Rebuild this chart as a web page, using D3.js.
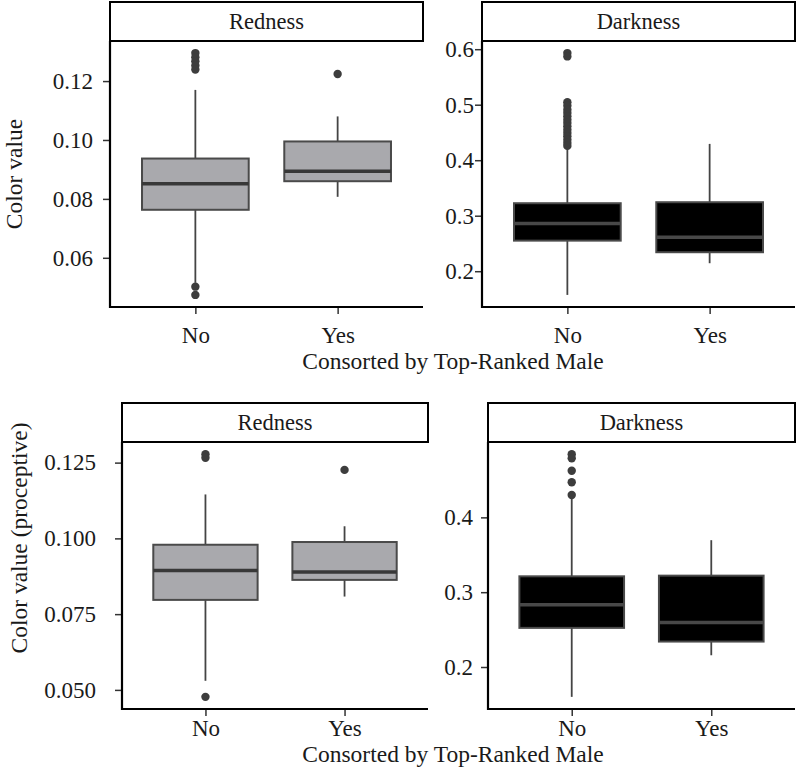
<!DOCTYPE html>
<html>
<head>
<meta charset="utf-8">
<script src="https://cdn.jsdelivr.net/npm/d3@7"></script>
<style>
  body { margin: 0; background: #fff; }
</style>
</head>
<body>
<div id="chart"></div>
<script>
// Categories
const groups = ["No", "Yes"];
const facets = ["Redness", "Darkness"];

// Box stats per group: [lowerWhisker, q1, median, q3, upperWhisker]
const redBox = [[0.0515, 0.0763, 0.0851, 0.0937, 0.1170], [0.0807, 0.0860, 0.0894, 0.0995, 0.1080]];
const redOut = [[0.1295, 0.1281, 0.1267, 0.1253, 0.1239, 0.0502, 0.0474], [0.1224]];

const darkBox = [[0.1573, 0.2551, 0.2858, 0.3225, 0.4216], [0.2144, 0.2342, 0.2613, 0.3243, 0.4294]];
const darkOut = [[0.593, 0.587, 0.5045, 0.498, 0.491, 0.485, 0.479, 0.473, 0.467, 0.461,
                  0.455, 0.449, 0.443, 0.437, 0.431, 0.4258], []];

const redProBox = [[0.0530, 0.0797, 0.0894, 0.0979, 0.1145], [0.0808, 0.0863, 0.0889, 0.0988, 0.1040]];
const redProOut = [[0.1278, 0.1266, 0.0477], [0.1226]];

const darkProBox = [[0.1601, 0.2523, 0.2832, 0.3212, 0.4264], [0.2157, 0.2340, 0.2595, 0.3221, 0.3695]];
const darkProOut = [[0.4845, 0.4790, 0.4622, 0.4470, 0.4299], []];

// Tick labels
const redTicks = [0.06, 0.08, 0.10, 0.12];
const darkTicks = [0.2, 0.3, 0.4, 0.5, 0.6];
const redProTicks = [0.050, 0.075, 0.100, 0.125];
const darkProTicks = [0.2, 0.3, 0.4];

const xTitle = "Consorted by Top-Ranked Male";

const FONT = "'Liberation Serif', 'Times New Roman', Times, serif";
const width = 796, height = 776;
const svg = d3.select("#chart").append("svg")
  .attr("width", width)
  .attr("height", height);

// Panel layout (positions only)
const panels = [
  { facet: facets[0], box: redBox, out: redOut, ticks: redTicks, fmt: ".2f", fill: "#a9a9ad", median: "#383838",
    x0: 110, x1: 423, strip: 2, y0: 41, y1: 307, labelGap: 17, xLabelY: 343 },
  { facet: facets[1], box: darkBox, out: darkOut, ticks: darkTicks, fmt: ".1f", fill: "#000", median: "#484848",
    x0: 482, x1: 795, strip: 2, y0: 41, y1: 307, labelGap: 8, xLabelY: 343 },
  { facet: facets[0], box: redProBox, out: redProOut, ticks: redProTicks, fmt: ".3f", fill: "#a9a9ad", median: "#383838",
    x0: 122, x1: 428, strip: 403, y0: 442, y1: 709, labelGap: 26, xLabelY: 736 },
  { facet: facets[1], box: darkProBox, out: darkProOut, ticks: darkProTicks, fmt: ".1f", fill: "#000", median: "#484848",
    x0: 488, x1: 795, strip: 403, y0: 442, y1: 709, labelGap: 15, xLabelY: 736 },
];

function drawPanel(p) {
  const g = svg.append("g");

  // ggplot-like discrete x: 0.6 units expansion on each side
  const x = d3.scalePoint().domain(groups).range([p.x0, p.x1]).padding(0.6);
  const boxW = x.step() * 0.75;

  // y domain from data with 5% expansion
  const all = p.box.flat().concat(p.out.flat());
  const [lo, hi] = d3.extent(all);
  const pad = (hi - lo) * 0.05;
  const y = d3.scaleLinear().domain([lo - pad, hi + pad]).range([p.y1, p.y0]);

  // Strip
  g.append("rect")
    .attr("x", p.x0).attr("y", p.strip)
    .attr("width", p.x1 - p.x0).attr("height", p.y0 - p.strip)
    .attr("fill", "#fff").attr("stroke", "#000").attr("stroke-width", 2);
  g.append("text")
    .attr("x", (p.x0 + p.x1) / 2)
    .attr("y", (p.strip + p.y0) / 2 + 7.5)
    .attr("text-anchor", "middle")
    .style("font-family", FONT)
    .style("font-size", "22.5px")
    .attr("fill", "#1a1a1a")
    .text(p.facet);

  // Boxes
  const box = g.selectAll(".box")
    .data(groups.map((grp, i) => ({ grp, s: p.box[i], out: p.out[i] })))
    .enter().append("g").attr("class", "box");

  box.append("line")
    .attr("x1", d => x(d.grp)).attr("x2", d => x(d.grp))
    .attr("y1", d => y(d.s[0])).attr("y2", d => y(d.s[4]))
    .attr("stroke", "#444").attr("stroke-width", 1.8);

  box.append("rect")
    .attr("x", d => x(d.grp) - boxW / 2)
    .attr("width", boxW)
    .attr("y", d => y(d.s[3]))
    .attr("height", d => y(d.s[1]) - y(d.s[3]))
    .attr("fill", p.fill)
    .attr("stroke", "#4a4a4a").attr("stroke-width", 2);

  box.append("line")
    .attr("x1", d => x(d.grp) - boxW / 2).attr("x2", d => x(d.grp) + boxW / 2)
    .attr("y1", d => y(d.s[2])).attr("y2", d => y(d.s[2]))
    .attr("stroke", p.median).attr("stroke-width", 3.5);

  box.selectAll("circle")
    .data(d => d.out.map(v => ({ grp: d.grp, v })))
    .enter().append("circle")
    .attr("cx", d => x(d.grp)).attr("cy", d => y(d.v))
    .attr("r", 4.2).attr("fill", "#3d3d3d");

  // Y axis
  const yAxis = g.append("g")
    .attr("transform", `translate(${p.x0},0)`)
    .call(d3.axisLeft(y).tickValues(p.ticks).tickFormat(d3.format(p.fmt)).tickSize(7).tickPadding(p.labelGap - 7));
  yAxis.select(".domain").remove();
  yAxis.selectAll(".tick line").attr("stroke", "#333").attr("stroke-width", 1.5);
  yAxis.selectAll(".tick text")
    .style("font-family", FONT).style("font-size", "23px")
    .attr("fill", "#1a1a1a").attr("dy", "0.32em");

  // X axis
  const xAxis = g.append("g")
    .attr("transform", `translate(0,${p.y1})`)
    .call(d3.axisBottom(x).tickSize(7).tickPadding(0));
  xAxis.select(".domain").remove();
  xAxis.selectAll(".tick line").attr("stroke", "#333").attr("stroke-width", 1.5);
  xAxis.selectAll(".tick text")
    .style("font-family", FONT).style("font-size", "23px")
    .attr("fill", "#1a1a1a")
    .attr("dy", null)
    .attr("y", p.xLabelY - p.y1);

  // Axis lines (classic theme)
  g.append("path")
    .attr("d", `M${p.x0},${p.y0}V${p.y1}H${p.x1}`)
    .attr("fill", "none").attr("stroke", "#000").attr("stroke-width", 2.2);
}

panels.forEach(drawPanel);

// Axis titles
function title(sel, txt) {
  return sel.append("text")
    .attr("text-anchor", "middle")
    .style("font-family", FONT).style("font-size", "23.5px")
    .attr("fill", "#1a1a1a")
    .text(txt);
}
title(svg, "Color value").attr("transform", "translate(22,174) rotate(-90)");
title(svg, "Color value (proceptive)").attr("transform", "translate(27,538) rotate(-90)");
title(svg, xTitle).attr("x", 453).attr("y", 369);
title(svg, xTitle).attr("x", 453).attr("y", 762);
</script>
</body>
</html>
